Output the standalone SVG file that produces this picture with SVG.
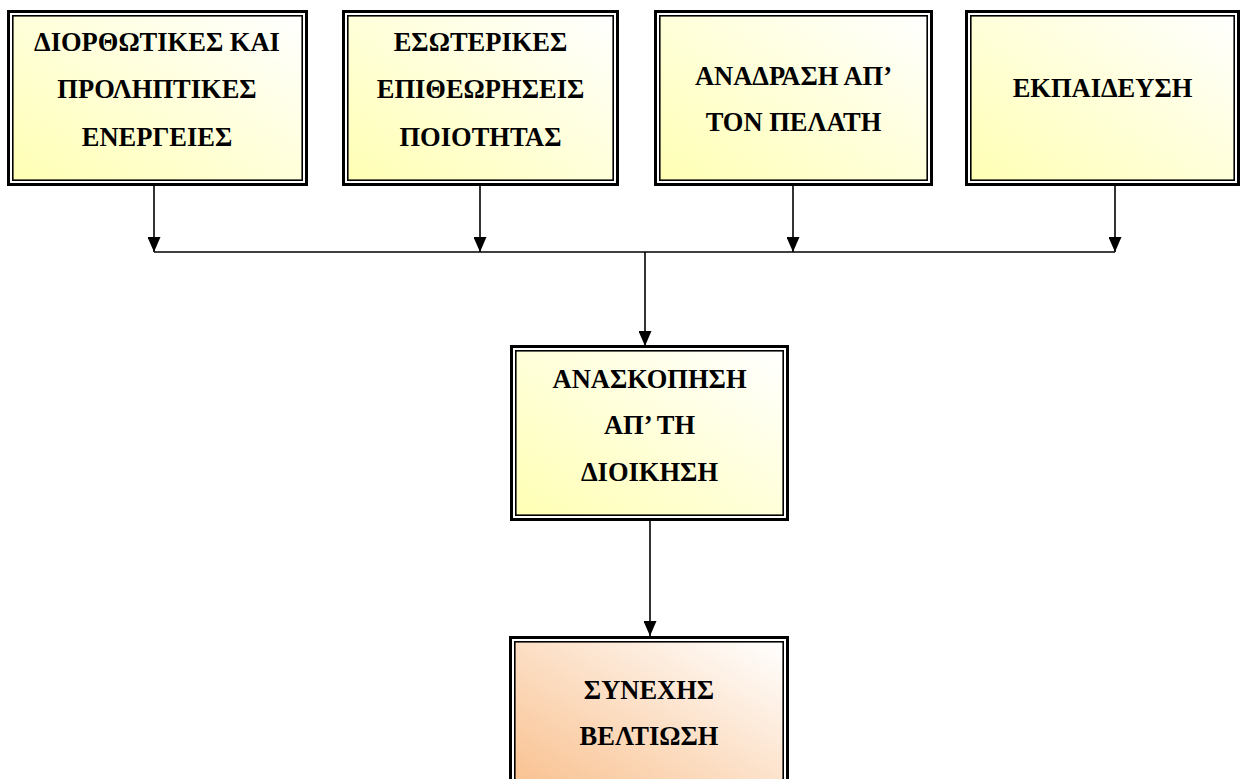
<svg xmlns="http://www.w3.org/2000/svg" width="1243" height="779" viewBox="0 0 1243 779">
  <defs>
    <linearGradient id="fillYellow" x1="0" y1="1" x2="1" y2="0">
      <stop offset="0" stop-color="#FFFFB4"/>
      <stop offset="1" stop-color="#FFFFFF"/>
    </linearGradient>
    <linearGradient id="fillPeach" x1="0" y1="1" x2="1" y2="0">
      <stop offset="0" stop-color="#F9BE8A"/>
      <stop offset="1" stop-color="#FFFFFF"/>
    </linearGradient>
    <marker id="arrow" viewBox="0 0 15 13" refX="15" refY="6.5" markerWidth="15" markerHeight="13" markerUnits="userSpaceOnUse" orient="auto">
      <path d="M0,0 L15,6.5 L0,13 Z" fill="#000"/>
    </marker>
  </defs>
  <style>
    .frame { fill: none; stroke: #000; stroke-width: 3; }
    .inner { stroke: #000; stroke-width: 1.6; }
    .yellow { fill: url(#fillYellow); }
    .peach { fill: url(#fillPeach); }
    .label { font-family: "Liberation Serif", "Times New Roman", serif; font-weight: bold; font-size: 26.5px; fill: #000; text-anchor: middle; }
    .wire { fill: none; stroke: #000; stroke-width: 1.6; }
  </style>

  <rect width="1243" height="779" fill="#FFFFFF"/>

  <g id="connectors">
    <line class="wire" x1="154" y1="186" x2="154" y2="252" marker-end="url(#arrow)"/>
    <line class="wire" x1="480" y1="186" x2="480" y2="252" marker-end="url(#arrow)"/>
    <line class="wire" x1="793" y1="186" x2="793" y2="252" marker-end="url(#arrow)"/>
    <line class="wire" x1="1115" y1="186" x2="1115" y2="252" marker-end="url(#arrow)"/>
    <line class="wire" x1="154" y1="252" x2="1115" y2="252"/>
    <line class="wire" x1="645" y1="252" x2="645" y2="346" marker-end="url(#arrow)"/>
    <line class="wire" x1="650" y1="521" x2="650" y2="636" marker-end="url(#arrow)"/>
  </g>

  <g id="node-corrective">
    <rect class="frame" x="8.5" y="11.5" width="298" height="173"/>
    <rect class="inner yellow" x="12.8" y="15.8" width="289.4" height="164.4"/>
    <text class="label" x="157" y="51">ΔΙΟΡΘΩΤΙΚΕΣ ΚΑΙ</text>
    <text class="label" x="157" y="98">ΠΡΟΛΗΠΤΙΚΕΣ</text>
    <text class="label" x="157" y="146">ΕΝΕΡΓΕΙΕΣ</text>
  </g>

  <g id="node-audits">
    <rect class="frame" x="343.5" y="11.5" width="274" height="173"/>
    <rect class="inner yellow" x="347.8" y="15.8" width="265.4" height="164.4"/>
    <text class="label" x="480.5" y="51">ΕΣΩΤΕΡΙΚΕΣ</text>
    <text class="label" x="480.5" y="98">ΕΠΙΘΕΩΡΗΣΕΙΣ</text>
    <text class="label" x="480.5" y="146">ΠΟΙΟΤΗΤΑΣ</text>
  </g>

  <g id="node-feedback">
    <rect class="frame" x="655.5" y="11.5" width="276" height="173"/>
    <rect class="inner yellow" x="659.8" y="15.8" width="267.4" height="164.4"/>
    <text class="label" x="793.5" y="85">ΑΝΑΔΡΑΣΗ ΑΠ’</text>
    <text class="label" x="793.5" y="131">ΤΟΝ ΠΕΛΑΤΗ</text>
  </g>

  <g id="node-training">
    <rect class="frame" x="966.5" y="11.5" width="272" height="173"/>
    <rect class="inner yellow" x="970.8" y="15.8" width="263.4" height="164.4"/>
    <text class="label" x="1102.5" y="97">ΕΚΠΑΙΔΕΥΣΗ</text>
  </g>

  <g id="node-review">
    <rect class="frame" x="511.5" y="346.5" width="276" height="173"/>
    <rect class="inner yellow" x="515.8" y="350.8" width="267.4" height="164.4"/>
    <text class="label" x="649.5" y="388">ΑΝΑΣΚΟΠΗΣΗ</text>
    <text class="label" x="649.5" y="434">ΑΠ’ ΤΗ</text>
    <text class="label" x="649.5" y="481">ΔΙΟΙΚΗΣΗ</text>
  </g>

  <g id="node-improvement">
    <rect class="frame" x="510.5" y="637.5" width="277" height="160"/>
    <rect class="inner peach" x="514.8" y="641.8" width="268.4" height="160"/>
    <text class="label" x="649" y="699">ΣΥΝΕΧΗΣ</text>
    <text class="label" x="649" y="745">ΒΕΛΤΙΩΣΗ</text>
  </g>
</svg>
